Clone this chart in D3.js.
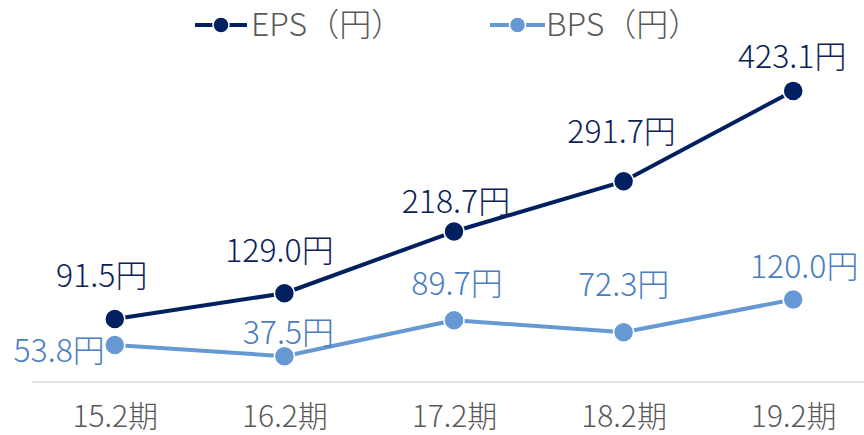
<!DOCTYPE html>
<html>
<head>
<meta charset="utf-8">
<script src="https://cdn.jsdelivr.net/npm/d3@7"></script>
<style>
  html, body { margin: 0; padding: 0; background: #ffffff; }
  svg { display: block; }
  text { font-family: "Noto Sans CJK JP", "Noto Sans", sans-serif; font-weight: 300; }
</style>
</head>
<body>
<svg id="chart" width="864" height="435"></svg>
<script>
// ---- data ----
const categories = ["15.2期", "16.2期", "17.2期", "18.2期", "19.2期"];
const epsValues = [91.5, 129.0, 218.7, 291.7, 423.1];
const bpsValues = [53.8, 37.5, 89.7, 72.3, 120.0];
const seriesNames = ["EPS（円）", "BPS（円）"];
const unitSuffix = "円";

// ---- label placement (offsets relative to each point) ----
const epsLabelDx = [-13, -5, 2, -2, -1];
const epsLabelDy = [-32, -31, -19, -38, -23];
const bpsLabelDx = [-10, 4, 3, 0, 11];
const bpsLabelDy = [17, -12, -25, -36, -21];
const bpsLabelAnchor = ["end", "middle", "middle", "middle", "middle"];

const W = 864, H = 435;
const svg = d3.select("#chart");

const x = d3.scalePoint().domain(categories).range([30, 878]).padding(0.5);
const y = d3.scaleLinear().domain([0, 500]).range([382, 38]);

const epsColor = "#002060";
const epsLabelColor = "#0c2257";
const bpsColor = "#6699d3";
const bpsLabelColor = "#4a7dbf";
const textGray = "#595959";

// axis baseline
svg.append("line")
  .attr("x1", 32).attr("x2", W)
  .attr("y1", y(0)).attr("y2", y(0))
  .attr("stroke", "#d9d9d9").attr("stroke-width", 1.5);

// x axis tick labels
const xAxis = d3.axisBottom(x).tickSize(0).tickPadding(0);
const gx = svg.append("g").attr("transform", `translate(0,${y(0)})`).call(xAxis);
gx.select(".domain").remove();
gx.selectAll("text")
  .attr("y", 45)
  .attr("dy", null)
  .attr("fill", textGray)
  .style("font-size", "30px")
  .style("font-weight", "300")
  .style("font-family", '"Noto Sans CJK JP", sans-serif');

function drawSeries(values, color, r) {
  const line = d3.line().x((d, i) => x(categories[i])).y(d => y(d));
  svg.append("path")
    .datum(values)
    .attr("d", line)
    .attr("fill", "none")
    .attr("stroke", color)
    .attr("stroke-width", 4)
    .attr("stroke-linejoin", "round");
  svg.append("g").selectAll("circle")
    .data(values)
    .join("circle")
    .attr("cx", (d, i) => x(categories[i]))
    .attr("cy", d => y(d))
    .attr("r", r)
    .attr("fill", color)
    .attr("stroke", "#ffffff")
    .attr("stroke-width", 1.5);
}

drawSeries(bpsValues, bpsColor, 10);
drawSeries(epsValues, epsColor, 10);

// data labels
svg.append("g").selectAll("text")
  .data(epsValues)
  .join("text")
  .attr("x", (d, i) => x(categories[i]) + epsLabelDx[i])
  .attr("y", (d, i) => y(d) + epsLabelDy[i])
  .attr("text-anchor", "middle")
  .attr("fill", epsLabelColor)
  .style("font-size", "32px")
  .text(d => d.toFixed(1) + unitSuffix);

svg.append("g").selectAll("text")
  .data(bpsValues)
  .join("text")
  .attr("x", (d, i) => x(categories[i]) + bpsLabelDx[i])
  .attr("y", (d, i) => y(d) + bpsLabelDy[i])
  .attr("text-anchor", (d, i) => bpsLabelAnchor[i])
  .attr("fill", bpsLabelColor)
  .style("font-size", "32px")
  .text(d => d.toFixed(1) + unitSuffix);

// legend
const legendItems = [
  { name: seriesNames[0], color: epsColor, x0: 195, x1: 247, tx: 251 },
  { name: seriesNames[1], color: bpsColor, x0: 490, x1: 545, tx: 546 }
];
const lg = svg.append("g");
legendItems.forEach(it => {
  lg.append("line")
    .attr("x1", it.x0).attr("x2", it.x1)
    .attr("y1", 25).attr("y2", 25)
    .attr("stroke", it.color).attr("stroke-width", 4);
  lg.append("circle")
    .attr("cx", (it.x0 + it.x1) / 2).attr("cy", 25).attr("r", 8)
    .attr("fill", it.color).attr("stroke", "#ffffff").attr("stroke-width", 1.5);
  lg.append("text")
    .attr("x", it.tx).attr("y", 36)
    .attr("fill", textGray)
    .style("font-size", "32px")
    .text(it.name);
});
</script>
</body>
</html>
